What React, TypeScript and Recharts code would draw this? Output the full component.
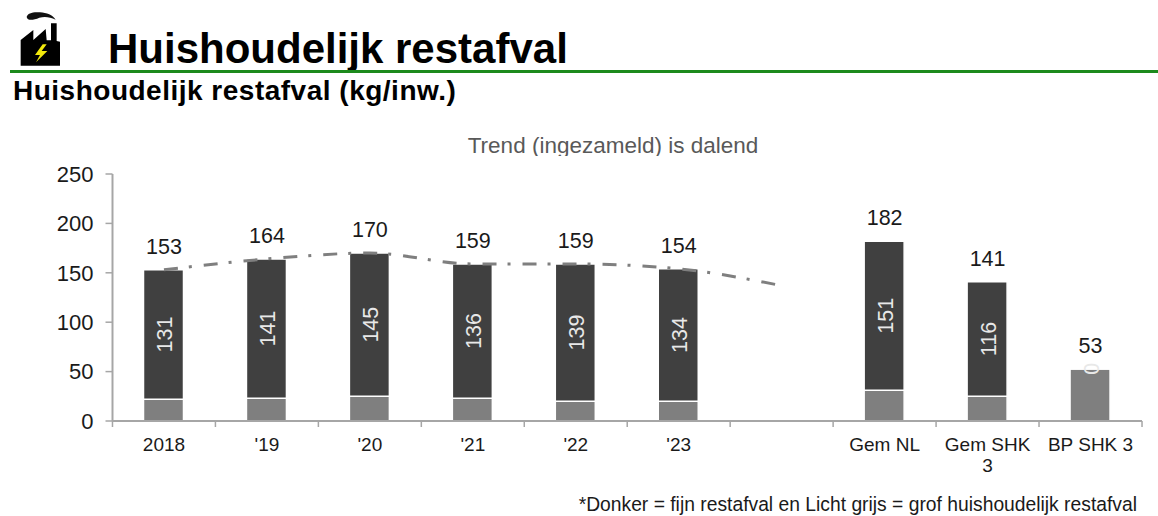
import React from 'react';
import { ComposedChart, Bar, Line, XAxis, YAxis, LabelList } from 'recharts';

const categories = ['2018', "'19", "'20", "'21", "'22", "'23", '', 'Gem NL', 'Gem SHK|3', 'BP SHK 3'];
// BP SHK 3 has a sliver of fijn restafval that rounds to the "0" label
const fijn = [131, 141, 145, 136, 139, 134, null, 151, 116, 0.4];
const grof = [22, 23, 25, 23, 20, 20, null, 31, 25, 52.6];
const totals = [153, 164, 170, 159, 159, 154, null, 182, 141, 53];
const trend = [153, 164, 170, 159, 159, 154, 137, null, null, null];
const yTicks = [0, 50, 100, 150, 200, 250];

const data = categories.map((name, i) => ({
  name,
  fijn: fijn[i],
  grof: grof[i],
  total: totals[i],
  trend: trend[i],
}));

const FONT = '"Liberation Sans", Arial, sans-serif';
const AXIS_COLOR = '#a6a6a6';
const SLOT = 103;

const CategoryTick = (props: any) => {
  const { x, y, payload, index } = props;
  const lines = String(payload.value).split('|');
  return (
    <g>
      <line x1={x - SLOT / 2} x2={x - SLOT / 2} y1={y - 8} y2={y - 2} stroke={AXIS_COLOR} strokeWidth={1.5} />
      {index === categories.length - 1 && (
        <line x1={x + SLOT / 2} x2={x + SLOT / 2} y1={y - 8} y2={y - 2} stroke={AXIS_COLOR} strokeWidth={1.5} />
      )}
      <text textAnchor="middle" fontSize={19} fill="#1a1a1a" fontFamily={FONT}>
        {lines.map((line, i) => (
          <tspan key={i} x={x} y={y + 22 + i * 21}>
            {line}
          </tspan>
        ))}
      </text>
    </g>
  );
};

const RotatedLabel = (props: any) => {
  const { x, y, width, height, value } = props;
  if (value === null || value === undefined) return null;
  const cx = x + width / 2 + 1.5;
  const cy = y + height / 2;
  return (
    <text
      x={cx}
      y={cy}
      transform={`rotate(-90 ${cx} ${cy})`}
      textAnchor="middle"
      dominantBaseline="central"
      fontSize={21.5}
      fill="#e8e8e8"
      fontFamily={FONT}
    >
      {Math.round(value)}
    </text>
  );
};

const FactoryIcon = () => (
  <svg width={110} height={75} viewBox="0 0 330 225" style={{ position: 'absolute', left: 0, top: 5 }}>
    <path d="M80 36 C82 24 100 20 120 22 C140 23 158 30 167 44 C150 36 135 34 118 38 C100 46 82 48 80 36 Z" fill="#111" />
    <path d="M62 182 L62 105 L100 75 L100 105 L137 72 L140 106 L153 106 L153 55 L170 55 L170 108 L180 110 L180 182 Z" fill="#000" />
    <path d="M128 118 L105 150 L120 150 L108 172 L142 138 L125 138 L140 118 Z" fill="#f2e90c" />
  </svg>
);

export default function App() {
  return (
    <div style={{ position: 'absolute', left: 0, top: 0, width: 1158, height: 516, background: '#fff', fontFamily: FONT, overflow: 'hidden' }}>
      <FactoryIcon />
      <div style={{ position: 'absolute', left: 108, top: 26, fontSize: 42, fontWeight: 700, lineHeight: '46px', color: '#000' }}>
        Huishoudelijk restafval
      </div>
      <div style={{ position: 'absolute', left: 10, top: 70, width: 1148, height: 3, background: '#1c8a1c' }} />
      <div style={{ position: 'absolute', left: 13, top: 76, fontSize: 28, fontWeight: 700, letterSpacing: 0.5, lineHeight: '30px', color: '#000' }}>
        Huishoudelijk restafval (kg/inw.)
      </div>
      <div style={{ position: 'absolute', left: 413, width: 400, top: 133, height: 23, overflow: 'hidden', textAlign: 'center', fontSize: 22.5, lineHeight: '26px', color: '#595959' }}>
        Trend (ingezameld) is dalend
      </div>
      <ComposedChart
        width={1158}
        height={516}
        data={data}
        margin={{ top: 174, right: 16, bottom: 0, left: 42.5 }}
        style={{ position: 'absolute', left: 0, top: 0 }}
      >
        <XAxis
          dataKey="name"
          interval={0}
          height={95}
          tickLine={false}
          tick={CategoryTick}
          axisLine={{ stroke: AXIS_COLOR, strokeWidth: 2 }}
        />
        <YAxis
          width={70}
          domain={[0, 250]}
          ticks={yTicks}
          interval={0}
          tickSize={7}
          tickMargin={12}
          tick={{ fontSize: 22, fill: '#1a1a1a', fontFamily: FONT }}
          tickLine={{ stroke: AXIS_COLOR, strokeWidth: 1.5 }}
          axisLine={{ stroke: AXIS_COLOR, strokeWidth: 2 }}
        />
        <Bar dataKey="grof" stackId="a" fill="#7f7f7f" stroke="#fff" strokeWidth={1.5} barSize={40} isAnimationActive={false} />
        <Bar dataKey="fijn" stackId="a" fill="#404040" stroke="#fff" strokeWidth={1.5} barSize={40} isAnimationActive={false}>
          <LabelList dataKey="fijn" content={RotatedLabel} />
        </Bar>
        <Line
          dataKey="trend"
          type="monotone"
          stroke="#7f7f7f"
          strokeWidth={3}
          strokeDasharray="14 11 3 12"
          dot={false}
          activeDot={false}
          isAnimationActive={false}
        />
        <Line dataKey="total" stroke="none" dot={false} activeDot={false} isAnimationActive={false}>
          <LabelList dataKey="total" position="top" offset={16} fontSize={21.5} fill="#1a1a1a" fontFamily={FONT} />
        </Line>
      </ComposedChart>
      <div style={{ position: 'absolute', right: 21, top: 495, fontSize: 19.3, lineHeight: '20px', color: '#1a1a1a', whiteSpace: 'nowrap' }}>
        *Donker = fijn restafval en Licht grijs = grof huishoudelijk restafval
      </div>
    </div>
  );
}
